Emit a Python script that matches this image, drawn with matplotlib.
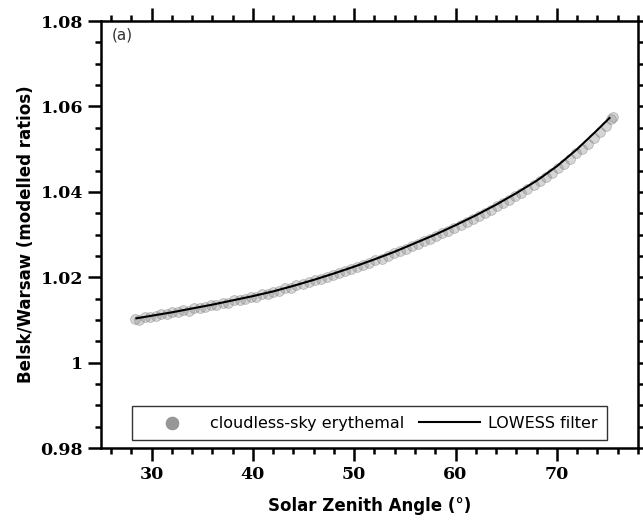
import matplotlib
matplotlib.use("Agg")
import matplotlib.pyplot as plt
from matplotlib.ticker import MultipleLocator, FuncFormatter

# ===== data =====
# cloudless-sky erythemal ratios (Belsk/Warsaw) vs solar zenith angle
sza_pts = [28.4, 28.8, 29.3, 29.8, 30.4, 30.9, 31.5, 32.0, 32.6, 33.1,
           33.7, 34.2, 34.8, 35.3, 35.9, 36.4, 37.0, 37.5, 38.1, 38.7,
           39.2, 39.8, 40.3, 40.9, 41.5, 42.0, 42.6, 43.2, 43.8, 44.3,
           44.9, 45.5, 46.1, 46.7, 47.3, 47.9, 48.5, 49.1, 49.7, 50.3,
           50.9, 51.5, 52.1, 52.7, 53.3, 53.9, 54.5, 55.1, 55.7, 56.3,
           56.9, 57.5, 58.1, 58.7, 59.3, 59.9, 60.5, 61.1, 61.7, 62.3,
           62.9, 63.5, 64.1, 64.7, 65.3, 65.9, 66.5, 67.1, 67.7, 68.3,
           68.9, 69.5, 70.1, 70.7, 71.3, 71.9, 72.5, 73.1, 73.7, 74.3,
           74.9, 75.3, 75.5]
ratio_pts = [1.0102, 1.0100, 1.0106, 1.0107, 1.0110, 1.0113, 1.0113, 1.0118, 1.0118, 1.0123,
             1.0122, 1.0128, 1.0129, 1.0130, 1.0135, 1.0134, 1.0141, 1.0140, 1.0147, 1.0146,
             1.0150, 1.0155, 1.0155, 1.0160, 1.0162, 1.0166, 1.0168, 1.0174, 1.0175, 1.0182,
             1.0184, 1.0188, 1.0193, 1.0196, 1.0200, 1.0206, 1.0210, 1.0214, 1.0220, 1.0224,
             1.0229, 1.0234, 1.0240, 1.0244, 1.0250, 1.0256, 1.0261, 1.0266, 1.0273, 1.0278,
             1.0284, 1.0290, 1.0296, 1.0303, 1.0309, 1.0316, 1.0322, 1.0329, 1.0336, 1.0343,
             1.0351, 1.0358, 1.0366, 1.0374, 1.0381, 1.0390, 1.0398, 1.0407, 1.0415, 1.0425,
             1.0434, 1.0444, 1.0455, 1.0466, 1.0477, 1.0490, 1.0501, 1.0513, 1.0527, 1.0540,
             1.0555, 1.0570, 1.0575]

# LOWESS curve
sza_fit = [28.5, 30, 32, 34, 36, 38, 40, 42, 44, 46, 48, 50, 52, 54, 56,
           58, 60, 62, 64, 66, 68, 70, 72, 74, 75.2]
ratio_fit = [1.0104, 1.0110, 1.0118, 1.0127, 1.0136, 1.0146, 1.0156, 1.0167,
             1.0180, 1.0194, 1.0209, 1.0225, 1.0242, 1.0260, 1.0280, 1.0300,
             1.0322, 1.0345, 1.0370, 1.0397, 1.0426, 1.0460, 1.0500, 1.0545,
             1.0573]

# ===== plot =====
fig = plt.figure(figsize=(6.43, 5.26), dpi=100)
ax = fig.add_axes([0.157, 0.148, 0.835, 0.812])

ax.scatter(sza_pts, ratio_pts, s=50, c='0.55', alpha=0.35,
           edgecolors='0.35', linewidths=0.6, zorder=2,
           label='cloudless-sky erythemal')
ax.plot(sza_fit, ratio_fit, color='black', lw=1.5, zorder=3,
        label='LOWESS filter')

ax.set_xlim(25, 78)
ax.set_ylim(0.98, 1.08)
ax.xaxis.set_major_locator(MultipleLocator(10))
ax.xaxis.set_minor_locator(MultipleLocator(2))
ax.yaxis.set_major_locator(MultipleLocator(0.02))
ax.yaxis.set_minor_locator(MultipleLocator(0.005))
ax.yaxis.set_major_formatter(FuncFormatter(lambda v, p: '%g' % round(v, 3)))

for sp in ax.spines.values():
    sp.set_linewidth(1.8)
ax.tick_params(which='both', direction='out', top=True, right=True, width=1.8)
ax.tick_params(which='major', length=9.5)
ax.tick_params(which='minor', length=4.5)
for lab in ax.get_xticklabels() + ax.get_yticklabels():
    lab.set_family('DejaVu Serif')
    lab.set_weight('bold')
    lab.set_fontsize(12.5)

ax.set_xlabel('Solar Zenith Angle (°)', fontsize=12, fontweight='bold',
              labelpad=10)
ax.set_ylabel('Belsk/Warsaw (modelled ratios)', fontsize=12, fontweight='bold')
ax.text(0.02, 0.985, '(a)', transform=ax.transAxes, fontsize=11,
        ha='left', va='top', color='0.2')

leg = ax.legend(loc='lower center', ncol=2, fontsize=11.5, frameon=True,
                fancybox=False, edgecolor='black', borderaxespad=0.5,
                borderpad=0.6, columnspacing=0.9, handlelength=3.8,
                handletextpad=0.5, markerscale=1.3)
leg.get_frame().set_linewidth(1.0)
leg.legend_handles[0].set_alpha(0.9)
leg.legend_handles[0].set_edgecolor('0.55')

fig.savefig('out.png', dpi=100)
